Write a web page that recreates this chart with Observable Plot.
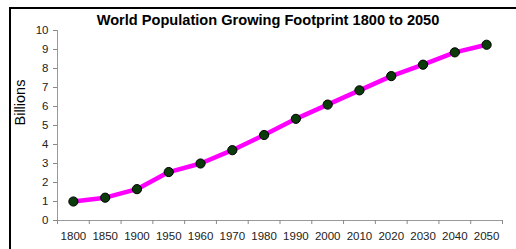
<!DOCTYPE html>
<html>
<head>
<meta charset="utf-8">
<script src="https://cdn.jsdelivr.net/npm/d3@7"></script>
<script src="https://cdn.jsdelivr.net/npm/@observablehq/plot@0.6"></script>
<style>
  body { margin: 0; background: #fff; font-family: "Liberation Sans", Arial, sans-serif; }
  #wrap { position: relative; width: 516px; height: 249px; overflow: hidden; }
  #border { position: absolute; left: 9px; top: 7px; width: 600px; height: 400px;
            border-left: 2px solid #000; border-top: 2px solid #000; }
  #chart { position: absolute; left: 0; top: 0; }
</style>
</head>
<body>
<div id="wrap"><div id="border"></div><div id="chart"></div></div>
<script>
const title = "World Population Growing Footprint 1800 to 2050";
const yLabel = "Billions";
const years = ["1800","1850","1900","1950","1960","1970","1980","1990","2000","2010","2020","2030","2040","2050"];
const population = [1.0, 1.2, 1.65, 2.55, 3.0, 3.7, 4.5, 5.35, 6.1, 6.85, 7.6, 8.2, 8.85, 9.25];
const yTicks = [0,1,2,3,4,5,6,7,8,9,10];

const data = years.map((yr, i) => ({i, year: yr, value: population[i]}));
const centers = years.map((_, i) => i);
const bounds = d3.range(-0.5, years.length, 1);

const chart = Plot.plot({
  width: 516,
  height: 249,
  marginLeft: 57,
  marginRight: 14,
  marginTop: 30,
  marginBottom: 29,
  style: {fontFamily: "'Liberation Sans', Arial, sans-serif", background: "transparent", overflow: "visible"},
  x: {domain: [-0.5, years.length - 0.5], axis: null},
  y: {domain: [0, 10], axis: null},
  marks: [
    Plot.axisY(yTicks, {tickSize: 4, tickPadding: 5, fontSize: 11.5, stroke: "#888", color: "#222", label: null}),
    Plot.ruleX([-0.5], {stroke: "#999"}),
    Plot.ruleY([0], {stroke: "#999"}),
    Plot.axisX(bounds, {tickSize: 4, tickFormat: () => "", stroke: "#888", label: null}),
    Plot.axisX(centers, {tickSize: 0, tickPadding: 11, fontSize: 11.5, tickFormat: i => years[i], color: "#222", label: null}),
    Plot.line(data, {x: "i", y: "value", stroke: "#ff00ff", strokeWidth: 4.5, curve: "linear"}),
    Plot.dot(data, {x: "i", y: "value", r: 4.6, fill: "#0b3a0b", stroke: "#000", strokeWidth: 1}),
    Plot.text([title], {frameAnchor: "top", dx: -12, dy: -6, lineAnchor: "bottom", fontSize: 14.6, fontWeight: "bold", fill: "#000"}),
    Plot.text([yLabel], {frameAnchor: "left", dx: -37, dy: 0, rotate: -90, fontSize: 14.5, fill: "#000"})
  ]
});
document.getElementById("chart").appendChild(chart);
</script>
</body>
</html>
